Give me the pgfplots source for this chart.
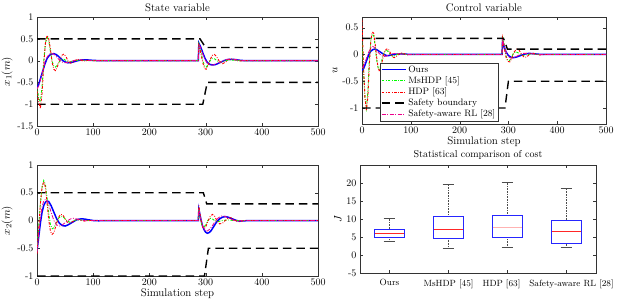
\documentclass[border=0pt]{standalone}
\usepackage{pgfplots}
\pgfplotsset{compat=1.18}
\usepgfplotslibrary{statistics}
\begin{document}
\begin{tikzpicture}
\useasboundingbox (0pt,0pt) rectangle (623pt,306pt);
\pgfplotsset{
  every axis/.append style={scale only axis, anchor=south west,
    axis line style={black!80}, tick style={black!80}, major tick length=3pt,
    tick align=inside,
    tick label style={font=\fontsize{10}{11}\selectfont},
    label style={font=\fontsize{11}{12}\selectfont},
    title style={font=\fontsize{11}{12}\selectfont, yshift=-4pt},
    xlabel style={yshift=4pt},
    ylabel style={yshift=-2pt}},
  ours/.style={blue, line width=1.5pt},
  ms/.style={green, line width=0.9pt, dash pattern=on 2.5pt off 1.5pt on 0.8pt off 1.5pt},
  hdp/.style={red, line width=0.9pt, dash pattern=on 2.5pt off 1.5pt on 0.8pt off 1.5pt},
  bnd/.style={black, line width=1.4pt, dash pattern=on 8.5pt off 5pt},
  saf/.style={magenta, line width=0.8pt, dash pattern=on 4pt off 1.5pt on 1pt off 1.5pt},
}
% ---------------- Top-left: x1 ----------------
\begin{axis}[at={(37pt,180pt)}, width=281pt, height=109pt,
  xmin=0, xmax=500, ymin=-1.5, ymax=1,
  xtick={0,100,...,500},
  ytick={-1.5,-1,-0.5,0,0.5,1}, yticklabels={-1.5,-1,-0.5,0,0.5,1},
  title={State variable}, ylabel={$x_1(m)$}]
\addplot[bnd] coordinates {(0,0.5)(290,0.5)(300,0.3)(500,0.3)};
\addplot[bnd] coordinates {(0,-1)(295,-1)(303,-0.5)(500,-0.5)};
\addplot[ours] coordinates {(0,-0.62)(3,-0.55)(6,-0.42)(10,-0.25)(14,-0.08)(18,0.05)(22,0.12)(26,0.15)(30,0.16)(34,0.14)(38,0.1)(42,0.05)(46,0.0)(50,-0.03)(55,-0.05)(60,-0.045)(65,-0.03)(70,-0.01)(75,0.005)(80,0.015)(90,0.015)(100,0.005)(110,0)(287,0)(288,0.4)(291,0.32)(295,0.18)(299,0.05)(303,-0.04)(308,-0.09)(313,-0.1)(318,-0.09)(323,-0.06)(328,-0.03)(333,0)(338,0.02)(343,0.03)(348,0.03)(355,0.02)(362,0.005)(370,0)(500,0)};
\addplot[ms] coordinates {(0,-0.6)(3,-0.85)(6,-0.95)(9,-0.6)(12,0.0)(15,0.4)(18,0.55)(21,0.45)(24,0.2)(27,-0.02)(30,-0.13)(33,-0.15)(36,-0.1)(40,-0.02)(44,0.03)(48,0.03)(52,0.0)(56,-0.02)(60,-0.02)(65,-0.005)(70,0.005)(80,0.005)(90,0)(287,0)(288,0.38)(291,0.25)(295,0.0)(298,-0.12)(301,-0.15)(304,-0.1)(308,0.0)(312,0.05)(316,0.04)(320,0.0)(325,-0.03)(330,-0.02)(340,0.01)(350,0.01)(360,0)(500,0)};
\addplot[hdp] coordinates {(0,-0.7)(3,-0.95)(6,-1.1)(9,-0.75)(12,-0.1)(15,0.4)(18,0.58)(21,0.5)(24,0.25)(27,-0.05)(30,-0.2)(33,-0.23)(36,-0.15)(40,0.0)(44,0.12)(48,0.15)(52,0.08)(56,-0.03)(60,-0.06)(64,-0.04)(68,0.0)(72,0.03)(76,0.02)(80,0.0)(85,-0.01)(90,0.005)(100,0)(287,0)(288,0.35)(291,0.2)(295,-0.05)(298,-0.18)(301,-0.2)(304,-0.12)(308,0.02)(312,0.12)(316,0.14)(320,0.08)(325,-0.03)(330,-0.07)(335,-0.04)(340,0.02)(345,0.04)(350,0.03)(355,0.0)(360,-0.01)(370,0.0)(500,0)};
\addplot[saf] coordinates {(0,-0.65)(3,-0.58)(6,-0.45)(10,-0.25)(14,-0.05)(18,0.08)(22,0.15)(26,0.17)(30,0.15)(34,0.1)(38,0.04)(42,-0.01)(46,-0.04)(50,-0.05)(55,-0.04)(60,-0.02)(65,0.0)(70,0.015)(75,0.02)(80,0.015)(90,0.005)(100,0)(287,0)(288,0.38)(291,0.3)(295,0.15)(299,0.02)(303,-0.06)(308,-0.1)(313,-0.1)(318,-0.08)(323,-0.05)(328,-0.02)(333,0.01)(338,0.03)(343,0.035)(350,0.03)(358,0.015)(366,0.0)(380,0)(500,0)};
\end{axis}
% ---------------- Top-right: u ----------------
\begin{axis}[at={(362pt,182pt)}, width=244pt, height=107pt,
  xmin=0, xmax=500, ymin=-1.3, ymax=0.7,
  xtick={0,100,...,500},
  ytick={-1,-0.5,0,0.5}, yticklabels={-1,-0.5,0,0.5},
  title={Control variable}, ylabel={$u$}, xlabel={Simulation step},
  legend cell align=left,
  legend image code/.code={\draw[#1] (0pt,0pt) -- (24pt,0pt);},
  legend style={at={(0.074,0.57)}, anchor=north west, draw=black!80, fill=white,
    font=\fontsize{9.3}{9.5}\selectfont, inner sep=0.5pt, row sep=-1.2pt}]
\addplot[ours] coordinates {(0,-0.3)(3,-0.27)(6,-0.2)(10,-0.1)(14,0.0)(18,0.06)(22,0.09)(26,0.1)(30,0.09)(35,0.06)(40,0.03)(45,0.0)(50,-0.02)(55,-0.02)(60,-0.01)(70,0.005)(80,0.01)(90,0.005)(100,0)(287,0)(288,0.25)(291,0.15)(295,0.05)(300,-0.02)(305,-0.05)(310,-0.06)(316,-0.05)(322,-0.03)(328,-0.01)(335,0.01)(342,0.02)(350,0.015)(360,0.005)(370,0)(500,0)};
\addlegendentry{Ours}
\addplot[ms] coordinates {(0,0.3)(3,-0.3)(6,-0.8)(9,-1.0)(12,-0.7)(15,-0.1)(18,0.25)(21,0.38)(24,0.35)(27,0.15)(30,-0.1)(33,-0.25)(36,-0.28)(39,-0.18)(42,-0.05)(46,0.05)(50,0.08)(54,0.05)(58,0.0)(62,-0.03)(66,-0.03)(70,-0.01)(75,0.01)(80,0.02)(85,0.01)(90,0)(287,0)(288,0.35)(291,0.2)(295,-0.02)(298,-0.1)(302,-0.12)(306,-0.06)(310,0.02)(315,0.05)(320,0.03)(325,0.0)(330,-0.02)(340,0.0)(350,0.01)(360,0)(500,0)};
\addlegendentry{MsHDP [45]}
\addplot[hdp] coordinates {(0,0.65)(3,-0.2)(6,-0.8)(9,-1.05)(12,-0.8)(15,-0.2)(18,0.25)(21,0.42)(24,0.4)(27,0.2)(30,-0.05)(33,-0.25)(36,-0.32)(39,-0.25)(42,-0.1)(46,0.05)(50,0.1)(54,0.1)(58,0.03)(62,-0.04)(66,-0.06)(70,-0.04)(75,0.0)(80,0.03)(85,0.02)(90,0.0)(95,-0.01)(100,0)(287,0)(288,0.3)(291,0.15)(295,-0.05)(299,-0.13)(303,-0.14)(307,-0.07)(312,0.05)(317,0.1)(322,0.08)(327,0.0)(332,-0.05)(337,-0.05)(342,-0.01)(347,0.02)(352,0.02)(358,0.0)(365,-0.01)(375,0)(500,0)};
\addlegendentry{HDP [63]}
\addplot[bnd] coordinates {(0,0.3)(290,0.3)(298,0.1)(500,0.1)};
\addlegendentry{Safety boundary}
\addplot[bnd, forget plot] coordinates {(0,-1)(293,-1)(300,-0.5)(500,-0.5)};
\addplot[saf] coordinates {(0,-0.25)(3,-0.22)(6,-0.15)(10,-0.05)(14,0.05)(18,0.12)(22,0.15)(26,0.13)(30,0.08)(35,0.02)(40,-0.02)(45,-0.04)(50,-0.03)(55,-0.01)(60,0.01)(70,0.02)(80,0.01)(90,0)(287,0)(288,0.28)(291,0.18)(295,0.05)(300,-0.04)(305,-0.07)(310,-0.07)(316,-0.04)(322,-0.01)(330,0.02)(340,0.02)(350,0.01)(360,0)(500,0)};
\addlegendentry{Safety-aware RL [28]}
\end{axis}
% ---------------- Bottom-left: x2 ----------------
\begin{axis}[at={(37pt,30pt)}, width=281pt, height=111pt,
  xmin=0, xmax=500, ymin=-1, ymax=1,
  xtick={0,100,...,500},
  ytick={-1,-0.5,0,0.5,1}, yticklabels={-1,-0.5,0,0.5,1},
  ylabel={$x_2(m)$}, xlabel={Simulation step}]
\addplot[bnd] coordinates {(0,0.5)(296,0.5)(302,0.3)(500,0.3)};
\addplot[bnd] coordinates {(0,-1)(298,-1)(305,-0.5)(500,-0.5)};
\addplot[ours] coordinates {(0,-0.55)(3,-0.3)(6,-0.05)(9,0.15)(12,0.27)(15,0.33)(18,0.35)(21,0.34)(25,0.27)(30,0.15)(35,0.03)(40,-0.05)(45,-0.09)(50,-0.1)(55,-0.08)(60,-0.05)(65,-0.02)(70,0.01)(75,0.025)(80,0.03)(85,0.025)(90,0.015)(100,0.0)(110,-0.005)(120,0)(287,0)(288,0.2)(291,0.05)(294,-0.08)(297,-0.16)(300,-0.21)(303,-0.23)(306,-0.22)(310,-0.18)(315,-0.1)(320,-0.02)(325,0.03)(330,0.06)(335,0.07)(340,0.06)(345,0.04)(350,0.02)(355,0.0)(360,-0.01)(370,-0.005)(380,0)(500,0)};
\addplot[ms] coordinates {(0,-0.55)(3,-0.1)(6,0.3)(9,0.6)(12,0.72)(15,0.65)(18,0.4)(21,0.12)(24,-0.08)(27,-0.15)(30,-0.13)(34,-0.04)(38,0.04)(42,0.07)(46,0.07)(50,0.03)(54,-0.01)(58,-0.03)(62,-0.02)(66,0.0)(70,0.01)(80,0.005)(90,0)(287,0)(288,0.22)(291,0.0)(294,-0.1)(297,-0.12)(300,-0.08)(304,0.0)(308,0.04)(312,0.03)(316,0.0)(322,-0.02)(330,0.0)(340,0.01)(350,0)(500,0)};
\addplot[hdp] coordinates {(0,-0.6)(3,-0.15)(6,0.3)(9,0.6)(12,0.7)(15,0.6)(18,0.3)(21,0.0)(24,-0.2)(27,-0.25)(30,-0.22)(34,-0.08)(38,0.05)(42,0.11)(46,0.1)(50,0.03)(54,-0.03)(58,-0.05)(62,-0.03)(66,0.0)(70,0.02)(75,0.02)(80,0.0)(85,-0.01)(90,0.0)(100,0)(287,0)(288,0.27)(291,0.05)(294,-0.1)(297,-0.15)(300,-0.12)(304,-0.02)(308,0.07)(312,0.11)(316,0.08)(320,0.0)(325,-0.06)(330,-0.05)(335,0.0)(340,0.04)(345,0.05)(350,0.02)(355,-0.01)(360,-0.02)(370,0)(500,0)};
\addplot[saf] coordinates {(0,-0.58)(3,-0.25)(6,0.05)(9,0.25)(12,0.35)(15,0.38)(18,0.35)(22,0.25)(26,0.12)(30,0.0)(35,-0.08)(40,-0.1)(45,-0.08)(50,-0.04)(55,0.0)(60,0.03)(65,0.04)(70,0.03)(75,0.01)(80,0.0)(90,-0.005)(100,0)(287,0)(288,0.22)(291,0.05)(295,-0.1)(299,-0.18)(303,-0.19)(308,-0.15)(313,-0.08)(318,0.0)(323,0.05)(328,0.08)(333,0.08)(338,0.06)(344,0.03)(350,0.0)(356,-0.01)(365,0)(500,0)};
\end{axis}
% ---------------- Bottom-right: boxplot ----------------
\begin{axis}[at={(360pt,33pt)}, width=236pt, height=108pt,
  xmin=0.5, xmax=4.5, ymin=-5, ymax=25,
  xtick={1,2,3,4}, xticklabels={Ours, MsHDP [45], \hspace*{-12pt}HDP [63], \hspace*{10pt}Safety-aware RL [28]},
  xticklabel style={font=\fontsize{9}{10}\selectfont, yshift=-3pt},
  ytick={-5,0,5,10,15,20}, yticklabels={-5,0,5,10,15,20},
  title={Statistical comparison of cost},
  title style={font=\fontsize{10}{11}\selectfont},
  ylabel={$J$},
  boxplot/draw direction=y,
  boxplot/box extend=0.5, boxplot/whisker extend=0,
  boxplot/every box/.style={draw=blue!85!white, line width=0.7pt},
  boxplot/every median/.style={draw=red!85!white, line width=0.6pt},
  boxplot/every whisker/.style={draw=black!70, densely dotted, line width=0.6pt}]
\addplot[blue, boxplot prepared={draw position=1, median=6.1, upper quartile=7.2, lower quartile=4.9, upper whisker=10.3, lower whisker=3.8}] coordinates {};
\addplot[blue, boxplot prepared={draw position=2, median=7.1, upper quartile=10.8, lower quartile=4.7, upper whisker=19.6, lower whisker=1.9}] coordinates {};
\addplot[blue, boxplot prepared={draw position=3, median=7.7, upper quartile=11.0, lower quartile=4.9, upper whisker=20.1, lower whisker=2.0, every median/.style={draw=red!30!white, line width=0.6pt}}] coordinates {};
\addplot[blue, boxplot prepared={draw position=4, median=6.5, upper quartile=9.7, lower quartile=3.1, upper whisker=18.6, lower whisker=2.2}] coordinates {};
% whisker caps
\addplot[black!70, line width=0.7pt] coordinates {(0.9,10.3)(1.1,10.3)};
\addplot[black!70, line width=0.7pt] coordinates {(0.9,3.8)(1.1,3.8)};
\addplot[black!70, line width=0.7pt] coordinates {(1.9,19.6)(2.1,19.6)};
\addplot[black!70, line width=0.7pt] coordinates {(1.9,1.9)(2.1,1.9)};
\addplot[black!70, line width=0.7pt] coordinates {(2.9,20.1)(3.1,20.1)};
\addplot[black!70, line width=0.7pt] coordinates {(2.9,2.0)(3.1,2.0)};
\addplot[black!70, line width=0.7pt] coordinates {(3.9,18.6)(4.1,18.6)};
\addplot[black!70, line width=0.7pt] coordinates {(3.9,2.2)(4.1,2.2)};
\end{axis}
\end{tikzpicture}
\end{document}
